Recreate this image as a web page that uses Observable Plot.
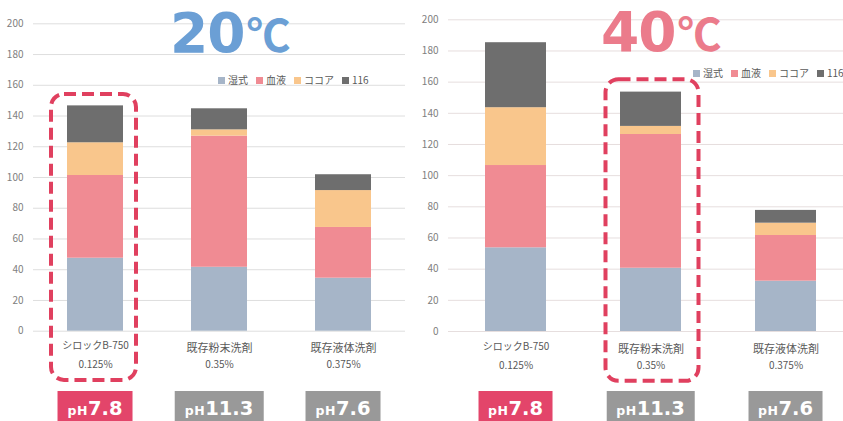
<!DOCTYPE html>
<html>
<head>
<meta charset="utf-8">
<script src="https://cdn.jsdelivr.net/npm/d3@7"></script>
<script src="https://cdn.jsdelivr.net/npm/@observablehq/plot@0.6"></script>
<style>
  html, body { margin: 0; padding: 0; background: #ffffff; }
  #wrap { position: relative; width: 843px; height: 421px; overflow: hidden; background: #ffffff;
          font-family: "Noto Sans CJK JP", "DejaVu Sans", sans-serif; }
  .panel { position: absolute; top: 0; }
  .title { position: absolute; font-family: "DejaVu Sans", sans-serif; font-weight: bold; font-size: 55px; line-height: 64px; height: 64px; white-space: nowrap; letter-spacing: -1px; }
  .title .deg { font-family: "Noto Sans CJK JP", sans-serif; font-size: 44px; line-height: 44px; font-weight: bold; margin-left: 2px; }
  .legend { position: absolute; font-size: 10px; line-height: 14px; color: #595959; white-space: nowrap; }
  .legend span.sw { display: inline-block; width: 7px; height: 7px; margin-right: 3px; vertical-align: 0px; }
  .legend span.item { margin-right: 8px; }
  .ph { position: absolute; top: 391px; height: 34px; line-height: 35px; color: #fff; font-family: "DejaVu Sans", sans-serif; font-weight: bold; white-space: nowrap; transform: translateX(-50%); padding: 0 10px; }
  .ph .p { font-size: 12.5px; letter-spacing: 0.5px; }
  .ph .n { font-size: 19.5px; }
</style>
</head>
<body>
<div id="wrap"></div>
<script>
// ---- data ----
const categories = ["シロックB-750", "既存粉末洗剤", "既存液体洗剤"];
const concentrations = ["0.125%", "0.35%", "0.375%"];
const series = ["湿式", "血液", "ココア", "116"];
const seriesColors = ["#a6b5c8", "#f08b93", "#f9c68c", "#6e6e6e"];
const phValues = ["7.8", "11.3", "7.6"];
const yTicks = [0, 20, 40, 60, 80, 100, 120, 140, 160, 180, 200];

// 20℃
const wet20 = [47.5, 41.6, 34.5];
const blood20 = [53.8, 85.3, 33.0];
const cocoa20 = [21.3, 4.1, 24.0];
const s116_20 = [24.0, 13.7, 10.3];
// 40℃
const wet40 = [53.7, 40.6, 32.3];
const blood40 = [52.8, 85.8, 29.3];
const cocoa40 = [37.1, 5.2, 7.9];
const s116_40 = [41.7, 22.0, 8.2];

const highlight20 = "シロックB-750";
const highlight40 = "既存粉末洗剤";
const phHighlight = "シロックB-750";

function rows(arrs) {
  return categories.flatMap((c, i) => series.map((s, j) => ({name: c, series: s, value: arrs[j][i]})));
}

const wrap = document.getElementById("wrap");

function panel(cfg) {
  const data = rows(cfg.arrays);
  const plot = Plot.plot({
    width: cfg.width,
    height: 421,
    marginLeft: cfg.marginLeft,
    marginRight: cfg.marginRight,
    marginTop: cfg.marginTop,
    marginBottom: cfg.marginBottom,
    style: {background: "transparent", fontFamily: "'Noto Sans CJK JP', 'DejaVu Sans', sans-serif", fontSize: "10px", color: "#808080", overflow: "visible"},
    x: {domain: categories, paddingInner: cfg.padIn, paddingOuter: cfg.padIn / 2, axis: null},
    y: {domain: [0, 200], ticks: yTicks, tickSize: 0, tickPadding: 10, label: null},
    color: {domain: series, range: seriesColors},
    marks: [
      Plot.ruleY(yTicks, {stroke: cfg.grid, strokeWidth: 1}),
      Plot.barY(data, {x: "name", y: "value", fill: "series"}),
      Plot.barY([cfg.highlight], {x: d => d, y1: cfg.hlLow, y2: cfg.hlHigh, insetLeft: cfg.hlInL, insetRight: cfg.hlInR,
        rx: 13, fill: "none", stroke: "#e0405f", strokeWidth: 4, strokeDasharray: "12,6"}),
      Plot.text(categories, {x: d => d, text: d => d, filter: (d, i) => i === 0, frameAnchor: "bottom", dy: 18, fontSize: 10, fill: "#595959"}),
      Plot.text(categories, {x: d => d, text: d => d, filter: (d, i) => i > 0, frameAnchor: "bottom", dy: cfg.nameDy, fontSize: 11, fill: "#595959"}),
      Plot.text(categories, {x: d => d, text: (d, i) => concentrations[i], frameAnchor: "bottom", dy: 37, fontSize: 10, fill: "#595959"})
    ]
  });
  plot.classList.add("panel");
  plot.style.left = cfg.left + "px";
  wrap.appendChild(plot);

  // pH labels under each category, centred with the x scale
  const xs = plot.scale("x");
  categories.forEach((c, i) => {
    const cx = cfg.left + xs.apply(c) + xs.bandwidth / 2;
    const d = document.createElement("div");
    d.className = "ph";
    d.style.left = cx + "px";
    d.style.background = c === phHighlight ? "#e3456a" : "#999999";
    d.innerHTML = `<span class="p">pH</span><span class="n">${phValues[i]}</span>`;
    wrap.appendChild(d);
  });

  // title
  const t = document.createElement("div");
  t.className = "title";
  t.style.left = cfg.titleX + "px";
  t.style.top = cfg.titleY + "px";
  t.style.color = cfg.titleColor;
  t.innerHTML = `${cfg.title}<span class="deg">℃</span>`;
  wrap.appendChild(t);

  // legend
  const lg = document.createElement("div");
  lg.className = "legend";
  lg.style.left = cfg.legX + "px";
  lg.style.top = cfg.legY + "px";
  lg.innerHTML = series.map((s, j) => `<span class="item"><span class="sw" style="background:${seriesColors[j]}"></span>${s}</span>`).join("");
  wrap.appendChild(lg);
}

panel({
  arrays: [wet20, blood20, cocoa20, s116_20],
  left: 0, width: 420, marginLeft: 33, marginRight: 15, marginTop: 23.3, marginBottom: 90.3,
  padIn: 0.55, grid: "#dedede",
  highlight: highlight20, hlLow: -32, hlHigh: 154, hlInL: -16, hlInR: -13,
  nameDy: 21,
  title: "20", titleColor: "#6b9fd5", titleX: 170, titleY: 1,
  legX: 218, legY: 73
});

panel({
  arrays: [wet40, blood40, cocoa40, s116_40],
  left: 420, width: 433, marginLeft: 28, marginRight: 0, marginTop: 19.3, marginBottom: 90,
  padIn: 0.545, grid: "#e6dede",
  highlight: highlight40, hlLow: -32, hlHigh: 161.5, hlInL: -14.5, hlInR: -17.5,
  nameDy: 21,
  title: "40", titleColor: "#eb7b8b", titleX: 601, titleY: 0,
  legX: 693, legY: 66
});
</script>
</body>
</html>
